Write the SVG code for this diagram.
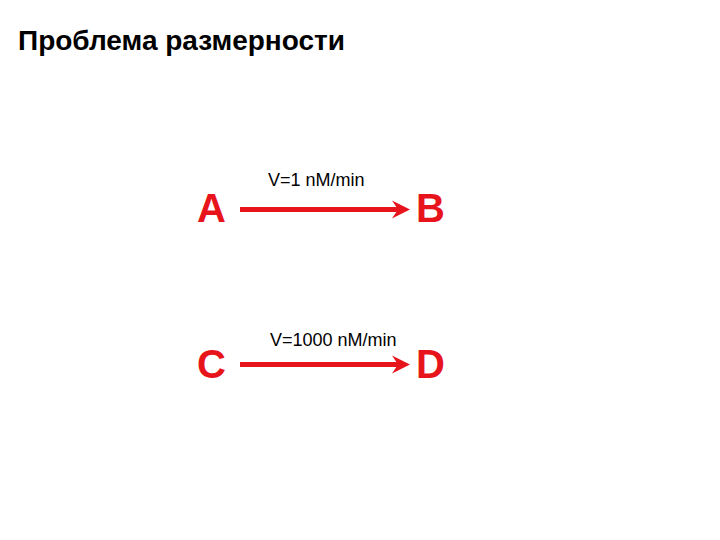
<svg xmlns="http://www.w3.org/2000/svg" width="720" height="540" viewBox="0 0 720 540">
<style>
.title{font-family:"Liberation Sans",Arial,sans-serif;font-weight:bold;font-size:28px;fill:#000}
.node{font-family:"Liberation Sans",Arial,sans-serif;font-weight:bold;font-size:40px;fill:#e8141c}
.lbl{font-family:"Liberation Sans",Arial,sans-serif;font-size:18px;fill:#000}
.edge{stroke:#e8141c;stroke-width:5;fill:none}
.head{fill:#e8141c}
</style>
<defs>
<path id="ah" class="head" d="M-18,-9 L0,0 L-18,9 L-12,0 Z"/>
</defs>
<rect width="720" height="540" fill="#fff"/>
<text class="title" x="18" y="50">Проблема размерности</text>
<g id="connectors">
<line class="edge" x1="240" y1="209.5" x2="400" y2="209.5"/>
<use href="#ah" x="410" y="209.5"/>
<line class="edge" x1="240" y1="364.5" x2="400" y2="364.5"/>
<use href="#ah" x="410" y="364.5"/>
<text class="lbl" x="268" y="186">V=1 nM/min</text>
<text class="lbl" x="270" y="346">V=1000 nM/min</text>
</g>
<g id="A"><text class="node" x="197" y="222">A</text></g>
<g id="B"><text class="node" x="416" y="222">B</text></g>
<g id="C"><text class="node" x="197" y="378">C</text></g>
<g id="D"><text class="node" x="416" y="378">D</text></g>
</svg>
